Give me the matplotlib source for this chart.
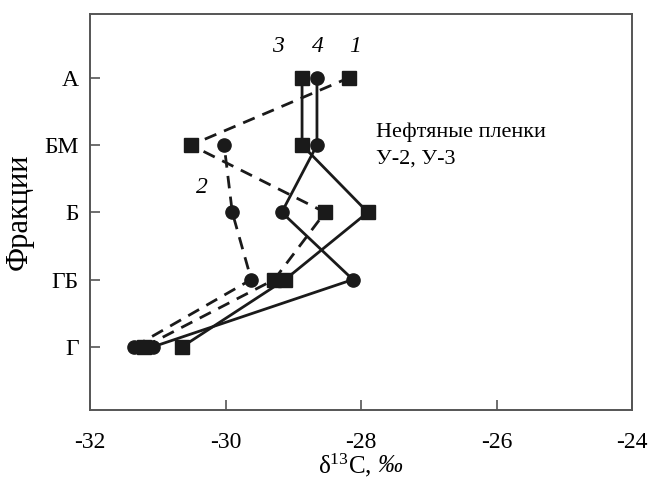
import matplotlib
matplotlib.use("Agg")
import matplotlib.pyplot as plt

plt.rcParams['font.family'] = ['Liberation Serif', 'DejaVu Serif']
plt.rcParams['axes.unicode_minus'] = False
plt.rcParams['mathtext.fontset'] = 'custom'
plt.rcParams['mathtext.rm'] = 'Liberation Serif'
plt.rcParams['mathtext.it'] = 'Liberation Serif:italic'

fractions = ['Г', 'ГБ', 'Б', 'БМ', 'А']  # bottom to top
ypos = [1, 2, 3, 4, 5]

# series 1: dashed, squares (Г..А)
s1_x = [-31.2, -29.28, -28.53, -30.51, -28.18]
s1_y = [1, 2, 3, 4, 5]
# series 2: dashed, circles (Г..БМ)
s2_x = [-31.35, -29.62, -29.9, -30.02]
s2_y = [1, 2, 3, 4]
# series 3: solid, squares
s3_x = [-30.64, -29.12, -27.9, -28.87, -28.87]
s3_y = [1, 2, 3, 4, 5]
# series 4: solid, circles
s4_x = [-31.07, -28.12, -29.17, -28.65, -28.65]
s4_y = [1, 2, 3, 4, 5]

xticks = [-32, -30, -28, -26, -24]

fig = plt.figure(figsize=(6.58, 4.90), dpi=100)
ax = fig.add_axes([90/658, 80/490, 542/658, 396/490])

c = '#1a1a1a'
lw = 2.0
ms = 9.5
dash = (0, (4.5, 3))
ax.plot(s1_x, s1_y, color=c, lw=lw, linestyle=dash, marker='s', ms=ms, zorder=3)
ax.plot(s2_x, s2_y, color=c, lw=lw, linestyle=dash, marker='o', ms=ms, zorder=3)
ax.plot(s3_x, s3_y, color=c, lw=lw, linestyle='-', marker='s', ms=ms, zorder=3)
ax.plot(s4_x, s4_y, color=c, lw=lw, linestyle='-', marker='o', ms=ms, zorder=3)

ax.set_xlim(-32, -24)
ax.set_ylim(0.06, 5.95)
ax.set_xticks(xticks)
ax.set_xticklabels([str(t) for t in xticks])
ax.set_yticks(ypos)
ax.set_yticklabels(fractions)
ax.tick_params(direction='in', length=7, width=1.2, color='#555555', labelsize=17, pad=8)
ax.tick_params(axis='x', pad=16)
for s in ax.spines.values():
    s.set_linewidth(1.4)
    s.set_color('#555555')

fig.text(318/658, 1 - 465/490, 'δ$^{13}$C, ', fontsize=18, ha='left', va='center')
fig.text(377/658, 1 - 466/490, '‰', fontsize=18, style='italic', ha='left', va='center')
ax.set_ylabel('Фракции', fontsize=22, labelpad=8)

tk = dict(fontsize=17, style='italic', ha='center', va='center')
ax.text(-29.22, 5.47, '3', **tk)
ax.text(-28.63, 5.47, '4', **tk)
ax.text(-28.08, 5.47, '1', **tk)
ax.text(-30.35, 3.37, '2', **tk)

ax.text(-27.78, 4.19, 'Нефтяные пленки', fontsize=16, ha='left', va='center')
ax.text(-27.78, 3.79, 'У-2, У-3', fontsize=16, ha='left', va='center')

fig.savefig('out.png', dpi=100)
